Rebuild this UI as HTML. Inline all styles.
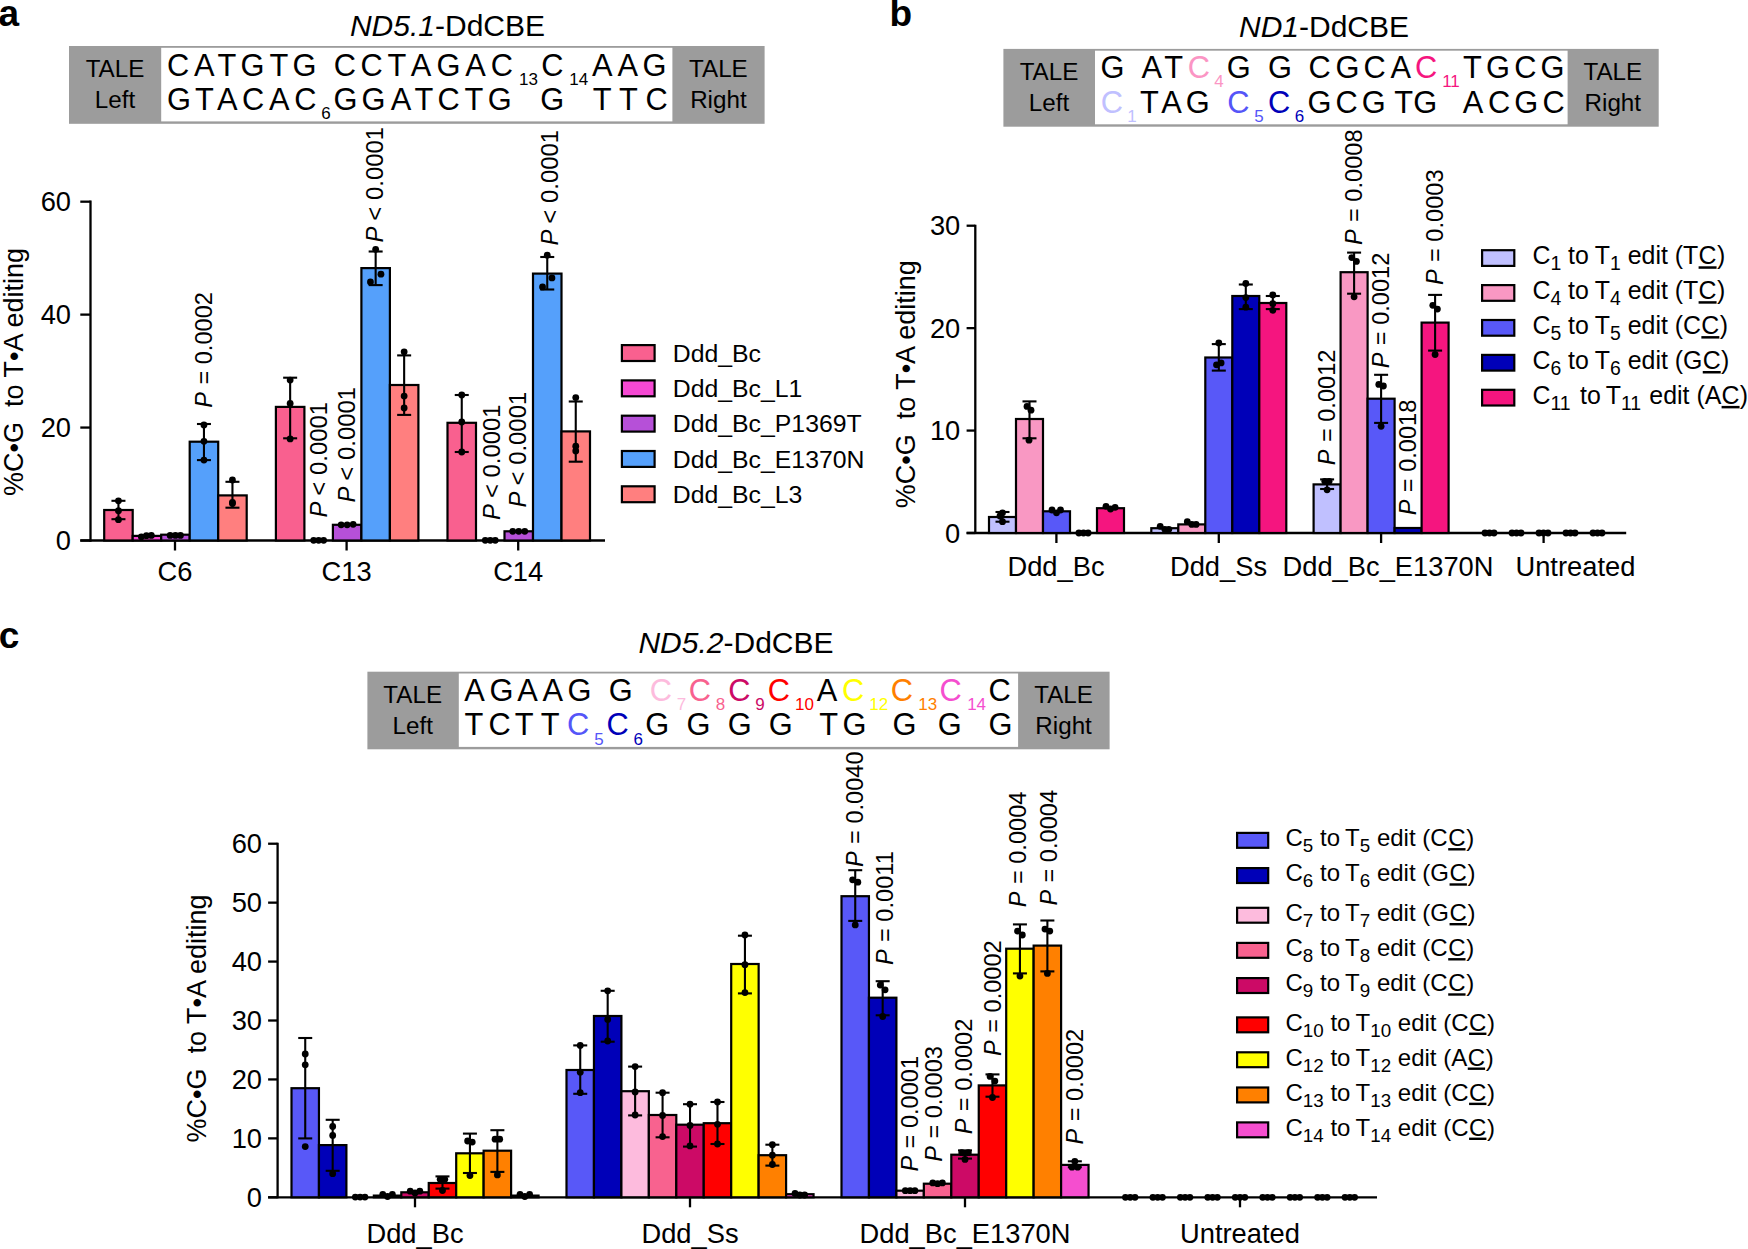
<!DOCTYPE html>
<html><head><meta charset="utf-8"><title>DdCBE editing figure</title>
<style>
html,body{margin:0;padding:0;background:#fff;}
svg{display:block;font-family:"Liberation Sans", Arial, sans-serif;fill:#000;}
.i{font-style:italic}
.u{text-decoration:underline}
</style></head><body>
<svg width="1748" height="1249" viewBox="0 0 1748 1249">
<rect width="1748" height="1249" fill="#fff"/>
<text x="-1.5" y="26.0" font-size="37" text-anchor="start" font-weight="bold">a</text>
<text x="447.5" y="36.0" font-size="30" text-anchor="middle"><tspan class="i">ND5.1</tspan>-DdCBE</text>
<rect x="69" y="46" width="695.6" height="77.8" fill="#9c9c9c"/>
<rect x="161.2" y="47.8" width="511.2" height="73.6" fill="#fff"/>
<text x="115.0" y="77.4" font-size="24.2" text-anchor="middle">TALE</text>
<text x="115.0" y="108.3" font-size="24.2" text-anchor="middle">Left</text>
<text x="718.4" y="77.4" font-size="24.2" text-anchor="middle">TALE</text>
<text x="718.4" y="108.3" font-size="24.2" text-anchor="middle">Right</text>
<text x="178.2" y="75.6" font-size="30.8" text-anchor="middle" fill="#000">C</text>
<text x="204.2" y="75.6" font-size="30.8" text-anchor="middle" fill="#000">A</text>
<text x="226.8" y="75.6" font-size="30.8" text-anchor="middle" fill="#000">T</text>
<text x="252.6" y="75.6" font-size="30.8" text-anchor="middle" fill="#000">G</text>
<text x="278.8" y="75.6" font-size="30.8" text-anchor="middle" fill="#000">T</text>
<text x="304.6" y="75.6" font-size="30.8" text-anchor="middle" fill="#000">G</text>
<text x="344.9" y="75.6" font-size="30.8" text-anchor="middle" fill="#000">C</text>
<text x="371.7" y="75.6" font-size="30.8" text-anchor="middle" fill="#000">C</text>
<text x="396.9" y="75.6" font-size="30.8" text-anchor="middle" fill="#000">T</text>
<text x="421.0" y="75.6" font-size="30.8" text-anchor="middle" fill="#000">A</text>
<text x="448.6" y="75.6" font-size="30.8" text-anchor="middle" fill="#000">G</text>
<text x="475.4" y="75.6" font-size="30.8" text-anchor="middle" fill="#000">A</text>
<text x="501.8" y="75.6" font-size="30.8" text-anchor="middle" fill="#000">C</text>
<text x="528.4" y="84.8" font-size="17" text-anchor="middle" fill="#000">13</text>
<text x="552.4" y="75.6" font-size="30.8" text-anchor="middle" fill="#000">C</text>
<text x="578.8" y="84.8" font-size="17" text-anchor="middle" fill="#000">14</text>
<text x="602.3" y="75.6" font-size="30.8" text-anchor="middle" fill="#000">A</text>
<text x="627.8" y="75.6" font-size="30.8" text-anchor="middle" fill="#000">A</text>
<text x="654.4" y="75.6" font-size="30.8" text-anchor="middle" fill="#000">G</text>
<text x="178.9" y="109.5" font-size="30.8" text-anchor="middle" fill="#000">G</text>
<text x="204.5" y="109.5" font-size="30.8" text-anchor="middle" fill="#000">T</text>
<text x="227.3" y="109.5" font-size="30.8" text-anchor="middle" fill="#000">A</text>
<text x="253.1" y="109.5" font-size="30.8" text-anchor="middle" fill="#000">C</text>
<text x="279.2" y="109.5" font-size="30.8" text-anchor="middle" fill="#000">A</text>
<text x="305.4" y="109.5" font-size="30.8" text-anchor="middle" fill="#000">C</text>
<text x="326.0" y="119.3" font-size="17" text-anchor="middle" fill="#000">6</text>
<text x="345.6" y="109.5" font-size="30.8" text-anchor="middle" fill="#000">G</text>
<text x="373.4" y="109.5" font-size="30.8" text-anchor="middle" fill="#000">G</text>
<text x="401.0" y="109.5" font-size="30.8" text-anchor="middle" fill="#000">A</text>
<text x="423.9" y="109.5" font-size="30.8" text-anchor="middle" fill="#000">T</text>
<text x="448.6" y="109.5" font-size="30.8" text-anchor="middle" fill="#000">C</text>
<text x="473.8" y="109.5" font-size="30.8" text-anchor="middle" fill="#000">T</text>
<text x="499.7" y="109.5" font-size="30.8" text-anchor="middle" fill="#000">G</text>
<text x="552.2" y="109.5" font-size="30.8" text-anchor="middle" fill="#000">G</text>
<text x="602.1" y="109.5" font-size="30.8" text-anchor="middle" fill="#000">T</text>
<text x="628.3" y="109.5" font-size="30.8" text-anchor="middle" fill="#000">T</text>
<text x="656.6" y="109.5" font-size="30.8" text-anchor="middle" fill="#000">C</text>
<line x1="90.50" y1="200.53" x2="90.50" y2="541.65" stroke="#000" stroke-width="2.3" stroke-linecap="butt"/>
<line x1="80.30" y1="540.50" x2="605.00" y2="540.50" stroke="#000" stroke-width="2.3" stroke-linecap="butt"/>
<line x1="80.30" y1="540.50" x2="90.50" y2="540.50" stroke="#000" stroke-width="2.3" stroke-linecap="butt"/>
<text x="71.0" y="550.1" font-size="27.3" text-anchor="end">0</text>
<line x1="80.30" y1="427.56" x2="90.50" y2="427.56" stroke="#000" stroke-width="2.3" stroke-linecap="butt"/>
<text x="71.0" y="437.2" font-size="27.3" text-anchor="end">20</text>
<line x1="80.30" y1="314.62" x2="90.50" y2="314.62" stroke="#000" stroke-width="2.3" stroke-linecap="butt"/>
<text x="71.0" y="324.2" font-size="27.3" text-anchor="end">40</text>
<line x1="80.30" y1="201.68" x2="90.50" y2="201.68" stroke="#000" stroke-width="2.3" stroke-linecap="butt"/>
<text x="71.0" y="211.3" font-size="27.3" text-anchor="end">60</text>
<line x1="175.00" y1="540.50" x2="175.00" y2="550.50" stroke="#000" stroke-width="2.3" stroke-linecap="butt"/>
<text x="175.0" y="581.3" font-size="27.3" text-anchor="middle">C6</text>
<line x1="346.60" y1="540.50" x2="346.60" y2="550.50" stroke="#000" stroke-width="2.3" stroke-linecap="butt"/>
<text x="346.6" y="581.3" font-size="27.3" text-anchor="middle">C13</text>
<line x1="518.20" y1="540.50" x2="518.20" y2="550.50" stroke="#000" stroke-width="2.3" stroke-linecap="butt"/>
<text x="518.2" y="581.3" font-size="27.3" text-anchor="middle">C14</text>
<text transform="translate(23.0,372.0) rotate(-90)" font-size="27.0" text-anchor="middle">%C•G&#160; to T•A editing</text>
<rect x="104.20" y="510.00" width="28.50" height="30.50" fill="#F9608F" stroke="#000" stroke-width="2.2"/>
<rect x="132.70" y="535.90" width="28.50" height="4.60" fill="#F548D3" stroke="#000" stroke-width="2.2"/>
<rect x="161.20" y="534.70" width="28.50" height="5.80" fill="#B650D8" stroke="#000" stroke-width="2.2"/>
<rect x="189.70" y="441.70" width="28.50" height="98.80" fill="#55A0FB" stroke="#000" stroke-width="2.2"/>
<rect x="218.20" y="495.40" width="28.50" height="45.10" fill="#FF7F7F" stroke="#000" stroke-width="2.2"/>
<rect x="275.90" y="406.90" width="28.50" height="133.60" fill="#F9608F" stroke="#000" stroke-width="2.2"/>
<rect x="332.90" y="524.80" width="28.50" height="15.70" fill="#B650D8" stroke="#000" stroke-width="2.2"/>
<rect x="361.40" y="268.10" width="28.50" height="272.40" fill="#55A0FB" stroke="#000" stroke-width="2.2"/>
<rect x="389.90" y="385.00" width="28.50" height="155.50" fill="#FF7F7F" stroke="#000" stroke-width="2.2"/>
<rect x="447.50" y="422.80" width="28.50" height="117.70" fill="#F9608F" stroke="#000" stroke-width="2.2"/>
<rect x="504.50" y="531.30" width="28.50" height="9.20" fill="#B650D8" stroke="#000" stroke-width="2.2"/>
<rect x="533.00" y="273.60" width="28.50" height="266.90" fill="#55A0FB" stroke="#000" stroke-width="2.2"/>
<rect x="561.50" y="431.40" width="28.50" height="109.10" fill="#FF7F7F" stroke="#000" stroke-width="2.2"/>
<line x1="118.45" y1="500.80" x2="118.45" y2="519.20" stroke="#000" stroke-width="2.1" stroke-linecap="butt"/>
<line x1="111.45" y1="500.80" x2="125.45" y2="500.80" stroke="#000" stroke-width="2.1" stroke-linecap="butt"/>
<line x1="111.45" y1="519.20" x2="125.45" y2="519.20" stroke="#000" stroke-width="2.1" stroke-linecap="butt"/>
<circle cx="118.45" cy="500.80" r="3.4" fill="#000"/>
<circle cx="118.45" cy="510.70" r="3.4" fill="#000"/>
<circle cx="118.45" cy="519.70" r="3.4" fill="#000"/>
<circle cx="141.35" cy="536.80" r="3.4" fill="#000"/>
<circle cx="146.45" cy="535.70" r="3.4" fill="#000"/>
<circle cx="151.35" cy="535.40" r="3.4" fill="#000"/>
<circle cx="170.15" cy="535.40" r="3.4" fill="#000"/>
<circle cx="175.45" cy="535.40" r="3.4" fill="#000"/>
<circle cx="180.45" cy="535.40" r="3.4" fill="#000"/>
<line x1="203.95" y1="424.00" x2="203.95" y2="460.10" stroke="#000" stroke-width="2.1" stroke-linecap="butt"/>
<line x1="196.95" y1="424.00" x2="210.95" y2="424.00" stroke="#000" stroke-width="2.1" stroke-linecap="butt"/>
<line x1="196.95" y1="460.10" x2="210.95" y2="460.10" stroke="#000" stroke-width="2.1" stroke-linecap="butt"/>
<circle cx="203.95" cy="424.90" r="3.4" fill="#000"/>
<circle cx="203.95" cy="441.30" r="3.4" fill="#000"/>
<circle cx="203.95" cy="460.10" r="3.4" fill="#000"/>
<line x1="232.45" y1="481.80" x2="232.45" y2="507.70" stroke="#000" stroke-width="2.1" stroke-linecap="butt"/>
<line x1="225.45" y1="481.80" x2="239.45" y2="481.80" stroke="#000" stroke-width="2.1" stroke-linecap="butt"/>
<line x1="225.45" y1="507.70" x2="239.45" y2="507.70" stroke="#000" stroke-width="2.1" stroke-linecap="butt"/>
<circle cx="232.45" cy="480.00" r="3.4" fill="#000"/>
<circle cx="232.45" cy="502.40" r="3.4" fill="#000"/>
<circle cx="232.45" cy="503.50" r="3.4" fill="#000"/>
<line x1="290.15" y1="377.70" x2="290.15" y2="438.30" stroke="#000" stroke-width="2.1" stroke-linecap="butt"/>
<line x1="283.15" y1="377.70" x2="297.15" y2="377.70" stroke="#000" stroke-width="2.1" stroke-linecap="butt"/>
<line x1="283.15" y1="438.30" x2="297.15" y2="438.30" stroke="#000" stroke-width="2.1" stroke-linecap="butt"/>
<circle cx="290.15" cy="380.10" r="3.4" fill="#000"/>
<circle cx="290.15" cy="403.40" r="3.4" fill="#000"/>
<circle cx="290.15" cy="438.90" r="3.4" fill="#000"/>
<circle cx="313.65" cy="540.30" r="3.4" fill="#000"/>
<circle cx="318.65" cy="540.30" r="3.4" fill="#000"/>
<circle cx="323.65" cy="540.30" r="3.4" fill="#000"/>
<circle cx="341.15" cy="524.80" r="3.4" fill="#000"/>
<circle cx="347.15" cy="524.80" r="3.4" fill="#000"/>
<circle cx="353.15" cy="524.30" r="3.4" fill="#000"/>
<line x1="375.65" y1="251.50" x2="375.65" y2="285.10" stroke="#000" stroke-width="2.1" stroke-linecap="butt"/>
<line x1="368.65" y1="251.50" x2="382.65" y2="251.50" stroke="#000" stroke-width="2.1" stroke-linecap="butt"/>
<line x1="368.65" y1="285.10" x2="382.65" y2="285.10" stroke="#000" stroke-width="2.1" stroke-linecap="butt"/>
<circle cx="375.65" cy="249.30" r="3.4" fill="#000"/>
<circle cx="380.95" cy="274.20" r="3.4" fill="#000"/>
<circle cx="370.45" cy="281.90" r="3.4" fill="#000"/>
<line x1="404.15" y1="355.40" x2="404.15" y2="414.90" stroke="#000" stroke-width="2.1" stroke-linecap="butt"/>
<line x1="397.15" y1="355.40" x2="411.15" y2="355.40" stroke="#000" stroke-width="2.1" stroke-linecap="butt"/>
<line x1="397.15" y1="414.90" x2="411.15" y2="414.90" stroke="#000" stroke-width="2.1" stroke-linecap="butt"/>
<circle cx="404.15" cy="351.80" r="3.4" fill="#000"/>
<circle cx="404.15" cy="396.10" r="3.4" fill="#000"/>
<circle cx="404.15" cy="408.00" r="3.4" fill="#000"/>
<line x1="461.75" y1="395.00" x2="461.75" y2="452.00" stroke="#000" stroke-width="2.1" stroke-linecap="butt"/>
<line x1="454.75" y1="395.00" x2="468.75" y2="395.00" stroke="#000" stroke-width="2.1" stroke-linecap="butt"/>
<line x1="454.75" y1="452.00" x2="468.75" y2="452.00" stroke="#000" stroke-width="2.1" stroke-linecap="butt"/>
<circle cx="461.75" cy="395.00" r="3.4" fill="#000"/>
<circle cx="461.75" cy="422.00" r="3.4" fill="#000"/>
<circle cx="461.75" cy="452.00" r="3.4" fill="#000"/>
<circle cx="485.25" cy="540.30" r="3.4" fill="#000"/>
<circle cx="490.25" cy="540.30" r="3.4" fill="#000"/>
<circle cx="495.25" cy="540.30" r="3.4" fill="#000"/>
<circle cx="512.75" cy="531.30" r="3.4" fill="#000"/>
<circle cx="518.75" cy="531.30" r="3.4" fill="#000"/>
<circle cx="524.75" cy="531.30" r="3.4" fill="#000"/>
<line x1="547.25" y1="257.00" x2="547.25" y2="289.50" stroke="#000" stroke-width="2.1" stroke-linecap="butt"/>
<line x1="540.25" y1="257.00" x2="554.25" y2="257.00" stroke="#000" stroke-width="2.1" stroke-linecap="butt"/>
<line x1="540.25" y1="289.50" x2="554.25" y2="289.50" stroke="#000" stroke-width="2.1" stroke-linecap="butt"/>
<circle cx="547.25" cy="255.20" r="3.4" fill="#000"/>
<circle cx="551.95" cy="277.90" r="3.4" fill="#000"/>
<circle cx="542.55" cy="286.90" r="3.4" fill="#000"/>
<line x1="575.75" y1="401.50" x2="575.75" y2="461.70" stroke="#000" stroke-width="2.1" stroke-linecap="butt"/>
<line x1="568.75" y1="401.50" x2="582.75" y2="401.50" stroke="#000" stroke-width="2.1" stroke-linecap="butt"/>
<line x1="568.75" y1="461.70" x2="582.75" y2="461.70" stroke="#000" stroke-width="2.1" stroke-linecap="butt"/>
<circle cx="575.75" cy="397.60" r="3.4" fill="#000"/>
<circle cx="575.75" cy="446.20" r="3.4" fill="#000"/>
<circle cx="575.75" cy="450.90" r="3.4" fill="#000"/>
<text transform="translate(211.5,407.7) rotate(-90)" font-size="23.6" text-anchor="start"><tspan class="i">P</tspan><tspan dx="0.8"> = 0.0002</tspan></text>
<text transform="translate(326.6,517.6) rotate(-90)" font-size="23.9" text-anchor="start"><tspan class="i">P</tspan><tspan dx="-0.6"> &lt; 0.0001</tspan></text>
<text transform="translate(355.0,502.6) rotate(-90)" font-size="23.9" text-anchor="start"><tspan class="i">P</tspan><tspan dx="-0.6"> &lt; 0.0001</tspan></text>
<text transform="translate(383.0,242.6) rotate(-90)" font-size="23.9" text-anchor="start"><tspan class="i">P</tspan><tspan dx="-0.6"> &lt; 0.0001</tspan></text>
<text transform="translate(499.6,520.0) rotate(-90)" font-size="23.9" text-anchor="start"><tspan class="i">P</tspan><tspan dx="-0.6"> &lt; 0.0001</tspan></text>
<text transform="translate(525.5,507.4) rotate(-90)" font-size="23.9" text-anchor="start"><tspan class="i">P</tspan><tspan dx="-0.6"> &lt; 0.0001</tspan></text>
<text transform="translate(557.6,245.6) rotate(-90)" font-size="23.9" text-anchor="start"><tspan class="i">P</tspan><tspan dx="-0.6"> &lt; 0.0001</tspan></text>
<rect x="621.9" y="345.1" width="32.7" height="15.9" fill="#F9608F" stroke="#000" stroke-width="2.2"/>
<text x="672.8" y="361.6" font-size="24.8" text-anchor="start">Ddd_Bc</text>
<rect x="621.9" y="380.4" width="32.7" height="15.9" fill="#F548D3" stroke="#000" stroke-width="2.2"/>
<text x="672.8" y="396.9" font-size="24.8" text-anchor="start">Ddd_Bc_L1</text>
<rect x="621.9" y="415.7" width="32.7" height="15.9" fill="#B650D8" stroke="#000" stroke-width="2.2"/>
<text x="672.8" y="432.2" font-size="24.8" text-anchor="start">Ddd_Bc_P1369T</text>
<rect x="621.9" y="451.0" width="32.7" height="15.9" fill="#55A0FB" stroke="#000" stroke-width="2.2"/>
<text x="672.8" y="467.5" font-size="24.8" text-anchor="start">Ddd_Bc_E1370N</text>
<rect x="621.9" y="486.3" width="32.7" height="15.9" fill="#FF7F7F" stroke="#000" stroke-width="2.2"/>
<text x="672.8" y="502.8" font-size="24.8" text-anchor="start">Ddd_Bc_L3</text>
<text x="889.6" y="26.2" font-size="37" text-anchor="start" font-weight="bold">b</text>
<text x="1324.0" y="36.5" font-size="30" text-anchor="middle"><tspan class="i">ND1</tspan>-DdCBE</text>
<rect x="1003.4" y="48.9" width="655.3000000000001" height="77.80000000000001" fill="#9c9c9c"/>
<rect x="1095" y="50.699999999999996" width="472.5999999999999" height="73.60000000000001" fill="#fff"/>
<text x="1049.0" y="80.3" font-size="24.2" text-anchor="middle">TALE</text>
<text x="1049.0" y="111.2" font-size="24.2" text-anchor="middle">Left</text>
<text x="1612.8" y="80.3" font-size="24.2" text-anchor="middle">TALE</text>
<text x="1612.8" y="111.2" font-size="24.2" text-anchor="middle">Right</text>
<text x="1112.4" y="78.1" font-size="30.8" text-anchor="middle" fill="#000">G</text>
<text x="1151.8" y="78.1" font-size="30.8" text-anchor="middle" fill="#000">A</text>
<text x="1173.6" y="78.1" font-size="30.8" text-anchor="middle" fill="#000">T</text>
<text x="1198.9" y="78.1" font-size="30.8" text-anchor="middle" fill="#FB95C4">C</text>
<text x="1219.1" y="87.3" font-size="17" text-anchor="middle" fill="#FB95C4">4</text>
<text x="1238.7" y="78.1" font-size="30.8" text-anchor="middle" fill="#000">G</text>
<text x="1279.9" y="78.1" font-size="30.8" text-anchor="middle" fill="#000">G</text>
<text x="1319.6" y="78.1" font-size="30.8" text-anchor="middle" fill="#000">C</text>
<text x="1347.4" y="78.1" font-size="30.8" text-anchor="middle" fill="#000">G</text>
<text x="1374.5" y="78.1" font-size="30.8" text-anchor="middle" fill="#000">C</text>
<text x="1400.7" y="78.1" font-size="30.8" text-anchor="middle" fill="#000">A</text>
<text x="1426.0" y="78.1" font-size="30.8" text-anchor="middle" fill="#F5157F">C</text>
<text x="1451.0" y="87.3" font-size="17" text-anchor="middle" fill="#F5157F">11</text>
<text x="1472.3" y="78.1" font-size="30.8" text-anchor="middle" fill="#000">T</text>
<text x="1498.1" y="78.1" font-size="30.8" text-anchor="middle" fill="#000">G</text>
<text x="1525.3" y="78.1" font-size="30.8" text-anchor="middle" fill="#000">C</text>
<text x="1552.5" y="78.1" font-size="30.8" text-anchor="middle" fill="#000">G</text>
<text x="1111.8" y="112.9" font-size="30.8" text-anchor="middle" fill="#C0C0FF">C</text>
<text x="1132.1" y="122.3" font-size="17" text-anchor="middle" fill="#C0C0FF">1</text>
<text x="1149.3" y="112.9" font-size="30.8" text-anchor="middle" fill="#000">T</text>
<text x="1171.4" y="112.9" font-size="30.8" text-anchor="middle" fill="#000">A</text>
<text x="1197.8" y="112.9" font-size="30.8" text-anchor="middle" fill="#000">G</text>
<text x="1238.3" y="112.9" font-size="30.8" text-anchor="middle" fill="#5555F8">C</text>
<text x="1258.9" y="122.3" font-size="17" text-anchor="middle" fill="#5555F8">5</text>
<text x="1279.1" y="112.9" font-size="30.8" text-anchor="middle" fill="#0000B8">C</text>
<text x="1299.6" y="122.3" font-size="17" text-anchor="middle" fill="#0000B8">6</text>
<text x="1319.4" y="112.9" font-size="30.8" text-anchor="middle" fill="#000">G</text>
<text x="1346.7" y="112.9" font-size="30.8" text-anchor="middle" fill="#000">C</text>
<text x="1373.8" y="112.9" font-size="30.8" text-anchor="middle" fill="#000">G</text>
<text x="1403.6" y="112.9" font-size="30.8" text-anchor="middle" fill="#000">T</text>
<text x="1425.3" y="112.9" font-size="30.8" text-anchor="middle" fill="#000">G</text>
<text x="1473.0" y="112.9" font-size="30.8" text-anchor="middle" fill="#000">A</text>
<text x="1499.2" y="112.9" font-size="30.8" text-anchor="middle" fill="#000">C</text>
<text x="1526.3" y="112.9" font-size="30.8" text-anchor="middle" fill="#000">G</text>
<text x="1553.5" y="112.9" font-size="30.8" text-anchor="middle" fill="#000">C</text>
<line x1="975.30" y1="224.71" x2="975.30" y2="534.00" stroke="#000" stroke-width="2.3" stroke-linecap="butt"/>
<line x1="966.60" y1="533.00" x2="1626.20" y2="533.00" stroke="#000" stroke-width="2.3" stroke-linecap="butt"/>
<line x1="966.60" y1="533.00" x2="975.30" y2="533.00" stroke="#000" stroke-width="2.3" stroke-linecap="butt"/>
<text x="960.3" y="542.6" font-size="27.3" text-anchor="end">0</text>
<line x1="966.60" y1="430.57" x2="975.30" y2="430.57" stroke="#000" stroke-width="2.3" stroke-linecap="butt"/>
<text x="960.3" y="440.2" font-size="27.3" text-anchor="end">10</text>
<line x1="966.60" y1="328.14" x2="975.30" y2="328.14" stroke="#000" stroke-width="2.3" stroke-linecap="butt"/>
<text x="960.3" y="337.7" font-size="27.3" text-anchor="end">20</text>
<line x1="966.60" y1="225.71" x2="975.30" y2="225.71" stroke="#000" stroke-width="2.3" stroke-linecap="butt"/>
<text x="960.3" y="235.3" font-size="27.3" text-anchor="end">30</text>
<line x1="1056.40" y1="533.00" x2="1056.40" y2="543.00" stroke="#000" stroke-width="2.3" stroke-linecap="butt"/>
<line x1="1218.80" y1="533.00" x2="1218.80" y2="543.00" stroke="#000" stroke-width="2.3" stroke-linecap="butt"/>
<line x1="1381.10" y1="533.00" x2="1381.10" y2="543.00" stroke="#000" stroke-width="2.3" stroke-linecap="butt"/>
<line x1="1543.60" y1="533.00" x2="1543.60" y2="543.00" stroke="#000" stroke-width="2.3" stroke-linecap="butt"/>
<text x="1056.0" y="576.0" font-size="27.3" text-anchor="middle">Ddd_Bc</text>
<text x="1218.5" y="576.0" font-size="27.3" text-anchor="middle">Ddd_Ss</text>
<text x="1388.0" y="576.0" font-size="27.3" text-anchor="middle">Ddd_Bc_E1370N</text>
<text x="1575.4" y="576.0" font-size="27.3" text-anchor="middle">Untreated</text>
<text transform="translate(915.0,384.3) rotate(-90)" font-size="27.0" text-anchor="middle">%C•G&#160; to T•A editing</text>
<rect x="989.00" y="517.00" width="27.00" height="16.00" fill="#C0C0FF" stroke="#000" stroke-width="2.2"/>
<rect x="1016.00" y="419.00" width="27.00" height="114.00" fill="#F998C3" stroke="#000" stroke-width="2.2"/>
<rect x="1043.00" y="511.30" width="27.00" height="21.70" fill="#5858F8" stroke="#000" stroke-width="2.2"/>
<rect x="1097.00" y="508.20" width="27.00" height="24.80" fill="#F5157F" stroke="#000" stroke-width="2.2"/>
<rect x="1151.30" y="528.20" width="27.00" height="4.80" fill="#C0C0FF" stroke="#000" stroke-width="2.2"/>
<rect x="1178.30" y="524.40" width="27.00" height="8.60" fill="#F998C3" stroke="#000" stroke-width="2.2"/>
<rect x="1205.30" y="357.50" width="27.00" height="175.50" fill="#5858F8" stroke="#000" stroke-width="2.2"/>
<rect x="1232.30" y="296.00" width="27.00" height="237.00" fill="#0000B8" stroke="#000" stroke-width="2.2"/>
<rect x="1259.30" y="303.00" width="27.00" height="230.00" fill="#F5157F" stroke="#000" stroke-width="2.2"/>
<rect x="1313.60" y="484.40" width="27.00" height="48.60" fill="#C0C0FF" stroke="#000" stroke-width="2.2"/>
<rect x="1340.60" y="272.20" width="27.00" height="260.80" fill="#F998C3" stroke="#000" stroke-width="2.2"/>
<rect x="1367.60" y="398.70" width="27.00" height="134.30" fill="#5858F8" stroke="#000" stroke-width="2.2"/>
<rect x="1394.60" y="528.00" width="27.00" height="5.00" fill="#0000B8" stroke="#000" stroke-width="2.2"/>
<rect x="1421.60" y="322.60" width="27.00" height="210.40" fill="#F5157F" stroke="#000" stroke-width="2.2"/>
<line x1="1002.50" y1="512.00" x2="1002.50" y2="521.70" stroke="#000" stroke-width="2.1" stroke-linecap="butt"/>
<line x1="995.50" y1="512.00" x2="1009.50" y2="512.00" stroke="#000" stroke-width="2.1" stroke-linecap="butt"/>
<line x1="995.50" y1="521.70" x2="1009.50" y2="521.70" stroke="#000" stroke-width="2.1" stroke-linecap="butt"/>
<circle cx="1002.50" cy="512.80" r="3.4" fill="#000"/>
<circle cx="1002.50" cy="521.70" r="3.4" fill="#000"/>
<circle cx="1000.00" cy="516.00" r="3.4" fill="#000"/>
<line x1="1029.50" y1="401.40" x2="1029.50" y2="438.30" stroke="#000" stroke-width="2.1" stroke-linecap="butt"/>
<line x1="1022.50" y1="401.40" x2="1036.50" y2="401.40" stroke="#000" stroke-width="2.1" stroke-linecap="butt"/>
<line x1="1022.50" y1="438.30" x2="1036.50" y2="438.30" stroke="#000" stroke-width="2.1" stroke-linecap="butt"/>
<circle cx="1027.00" cy="406.40" r="3.4" fill="#000"/>
<circle cx="1031.00" cy="410.20" r="3.4" fill="#000"/>
<circle cx="1029.00" cy="440.20" r="3.4" fill="#000"/>
<circle cx="1052.00" cy="510.00" r="3.4" fill="#000"/>
<circle cx="1056.50" cy="512.80" r="3.4" fill="#000"/>
<circle cx="1060.50" cy="510.00" r="3.4" fill="#000"/>
<circle cx="1078.90" cy="533.00" r="3.4" fill="#000"/>
<circle cx="1083.50" cy="533.00" r="3.4" fill="#000"/>
<circle cx="1088.10" cy="533.00" r="3.4" fill="#000"/>
<circle cx="1106.00" cy="506.30" r="3.4" fill="#000"/>
<circle cx="1110.50" cy="509.00" r="3.4" fill="#000"/>
<circle cx="1115.10" cy="507.40" r="3.4" fill="#000"/>
<circle cx="1160.20" cy="526.30" r="3.4" fill="#000"/>
<circle cx="1164.80" cy="529.30" r="3.4" fill="#000"/>
<circle cx="1168.80" cy="529.30" r="3.4" fill="#000"/>
<circle cx="1187.30" cy="521.70" r="3.4" fill="#000"/>
<circle cx="1191.80" cy="524.40" r="3.4" fill="#000"/>
<circle cx="1196.10" cy="524.40" r="3.4" fill="#000"/>
<line x1="1218.80" y1="344.10" x2="1218.80" y2="370.60" stroke="#000" stroke-width="2.1" stroke-linecap="butt"/>
<line x1="1211.80" y1="344.10" x2="1225.80" y2="344.10" stroke="#000" stroke-width="2.1" stroke-linecap="butt"/>
<line x1="1211.80" y1="370.60" x2="1225.80" y2="370.60" stroke="#000" stroke-width="2.1" stroke-linecap="butt"/>
<circle cx="1218.80" cy="342.90" r="3.4" fill="#000"/>
<circle cx="1216.50" cy="364.80" r="3.4" fill="#000"/>
<circle cx="1221.10" cy="362.90" r="3.4" fill="#000"/>
<line x1="1245.80" y1="284.50" x2="1245.80" y2="309.10" stroke="#000" stroke-width="2.1" stroke-linecap="butt"/>
<line x1="1238.80" y1="284.50" x2="1252.80" y2="284.50" stroke="#000" stroke-width="2.1" stroke-linecap="butt"/>
<line x1="1238.80" y1="309.10" x2="1252.80" y2="309.10" stroke="#000" stroke-width="2.1" stroke-linecap="butt"/>
<circle cx="1245.80" cy="283.40" r="3.4" fill="#000"/>
<circle cx="1245.80" cy="297.60" r="3.4" fill="#000"/>
<circle cx="1245.80" cy="307.20" r="3.4" fill="#000"/>
<line x1="1272.80" y1="296.00" x2="1272.80" y2="309.10" stroke="#000" stroke-width="2.1" stroke-linecap="butt"/>
<line x1="1265.80" y1="296.00" x2="1279.80" y2="296.00" stroke="#000" stroke-width="2.1" stroke-linecap="butt"/>
<line x1="1265.80" y1="309.10" x2="1279.80" y2="309.10" stroke="#000" stroke-width="2.1" stroke-linecap="butt"/>
<circle cx="1272.80" cy="294.90" r="3.4" fill="#000"/>
<circle cx="1272.80" cy="303.70" r="3.4" fill="#000"/>
<circle cx="1272.80" cy="310.30" r="3.4" fill="#000"/>
<line x1="1327.10" y1="479.40" x2="1327.10" y2="489.00" stroke="#000" stroke-width="2.1" stroke-linecap="butt"/>
<line x1="1320.10" y1="479.40" x2="1334.10" y2="479.40" stroke="#000" stroke-width="2.1" stroke-linecap="butt"/>
<line x1="1320.10" y1="489.00" x2="1334.10" y2="489.00" stroke="#000" stroke-width="2.1" stroke-linecap="butt"/>
<circle cx="1324.80" cy="481.30" r="3.4" fill="#000"/>
<circle cx="1329.10" cy="481.30" r="3.4" fill="#000"/>
<circle cx="1327.10" cy="489.80" r="3.4" fill="#000"/>
<line x1="1354.10" y1="252.60" x2="1354.10" y2="293.70" stroke="#000" stroke-width="2.1" stroke-linecap="butt"/>
<line x1="1347.10" y1="252.60" x2="1361.10" y2="252.60" stroke="#000" stroke-width="2.1" stroke-linecap="butt"/>
<line x1="1347.10" y1="293.70" x2="1361.10" y2="293.70" stroke="#000" stroke-width="2.1" stroke-linecap="butt"/>
<circle cx="1351.80" cy="257.60" r="3.4" fill="#000"/>
<circle cx="1356.40" cy="261.40" r="3.4" fill="#000"/>
<circle cx="1354.10" cy="296.80" r="3.4" fill="#000"/>
<line x1="1381.10" y1="374.80" x2="1381.10" y2="422.90" stroke="#000" stroke-width="2.1" stroke-linecap="butt"/>
<line x1="1374.10" y1="374.80" x2="1388.10" y2="374.80" stroke="#000" stroke-width="2.1" stroke-linecap="butt"/>
<line x1="1374.10" y1="422.90" x2="1388.10" y2="422.90" stroke="#000" stroke-width="2.1" stroke-linecap="butt"/>
<circle cx="1378.80" cy="384.40" r="3.4" fill="#000"/>
<circle cx="1383.40" cy="386.00" r="3.4" fill="#000"/>
<circle cx="1381.10" cy="426.30" r="3.4" fill="#000"/>
<line x1="1435.10" y1="294.90" x2="1435.10" y2="350.60" stroke="#000" stroke-width="2.1" stroke-linecap="butt"/>
<line x1="1428.10" y1="294.90" x2="1442.10" y2="294.90" stroke="#000" stroke-width="2.1" stroke-linecap="butt"/>
<line x1="1428.10" y1="350.60" x2="1442.10" y2="350.60" stroke="#000" stroke-width="2.1" stroke-linecap="butt"/>
<circle cx="1432.80" cy="305.30" r="3.4" fill="#000"/>
<circle cx="1437.40" cy="309.10" r="3.4" fill="#000"/>
<circle cx="1435.10" cy="354.50" r="3.4" fill="#000"/>
<circle cx="1485.00" cy="533.00" r="3.4" fill="#000"/>
<circle cx="1489.50" cy="533.00" r="3.4" fill="#000"/>
<circle cx="1494.00" cy="533.00" r="3.4" fill="#000"/>
<circle cx="1512.00" cy="533.00" r="3.4" fill="#000"/>
<circle cx="1516.50" cy="533.00" r="3.4" fill="#000"/>
<circle cx="1521.00" cy="533.00" r="3.4" fill="#000"/>
<circle cx="1539.00" cy="533.00" r="3.4" fill="#000"/>
<circle cx="1543.50" cy="533.00" r="3.4" fill="#000"/>
<circle cx="1548.00" cy="533.00" r="3.4" fill="#000"/>
<circle cx="1566.00" cy="533.00" r="3.4" fill="#000"/>
<circle cx="1570.50" cy="533.00" r="3.4" fill="#000"/>
<circle cx="1575.00" cy="533.00" r="3.4" fill="#000"/>
<circle cx="1593.00" cy="533.00" r="3.4" fill="#000"/>
<circle cx="1597.50" cy="533.00" r="3.4" fill="#000"/>
<circle cx="1602.00" cy="533.00" r="3.4" fill="#000"/>
<text transform="translate(1334.7,465.2) rotate(-90)" font-size="23.6" text-anchor="start"><tspan class="i">P</tspan><tspan dx="0.8"> = 0.0012</tspan></text>
<text transform="translate(1362.0,245.1) rotate(-90)" font-size="23.6" text-anchor="start"><tspan class="i">P</tspan><tspan dx="0.8"> = 0.0008</tspan></text>
<text transform="translate(1389.2,368.3) rotate(-90)" font-size="23.6" text-anchor="start"><tspan class="i">P</tspan><tspan dx="0.8"> = 0.0012</tspan></text>
<text transform="translate(1416.3,515.3) rotate(-90)" font-size="23.6" text-anchor="start"><tspan class="i">P</tspan><tspan dx="0.8"> = 0.0018</tspan></text>
<text transform="translate(1443.0,285.1) rotate(-90)" font-size="23.6" text-anchor="start"><tspan class="i">P</tspan><tspan dx="0.8"> = 0.0003</tspan></text>
<rect x="1482.1" y="250.2" width="32.2" height="15.7" fill="#C0C0FF" stroke="#000" stroke-width="2.2"/>
<text x="1532.4" y="264.3" font-size="24.9" text-anchor="start">C<tspan font-size="19.4" dy="6">1</tspan><tspan dy="-6" dx="0"> to </tspan><tspan dx="-0.5">T</tspan><tspan font-size="19.4" dy="6">1</tspan><tspan dy="-6" dx="0"> edit (T</tspan><tspan class="u" dx="0.3">C</tspan><tspan dx="0.3">)</tspan></text>
<rect x="1482.1" y="285.1" width="32.2" height="15.7" fill="#F998C3" stroke="#000" stroke-width="2.2"/>
<text x="1532.4" y="299.2" font-size="24.9" text-anchor="start">C<tspan font-size="19.4" dy="6">4</tspan><tspan dy="-6" dx="0"> to </tspan><tspan dx="-0.5">T</tspan><tspan font-size="19.4" dy="6">4</tspan><tspan dy="-6" dx="0"> edit (T</tspan><tspan class="u" dx="0.3">C</tspan><tspan dx="0.3">)</tspan></text>
<rect x="1482.1" y="320.0" width="32.2" height="15.7" fill="#5858F8" stroke="#000" stroke-width="2.2"/>
<text x="1532.4" y="334.1" font-size="24.9" text-anchor="start">C<tspan font-size="19.4" dy="6">5</tspan><tspan dy="-6" dx="0"> to </tspan><tspan dx="-0.5">T</tspan><tspan font-size="19.4" dy="6">5</tspan><tspan dy="-6" dx="0"> edit (C</tspan><tspan class="u" dx="0.3">C</tspan><tspan dx="0.3">)</tspan></text>
<rect x="1482.1" y="354.9" width="32.2" height="15.7" fill="#0000B8" stroke="#000" stroke-width="2.2"/>
<text x="1532.4" y="369.0" font-size="24.9" text-anchor="start">C<tspan font-size="19.4" dy="6">6</tspan><tspan dy="-6" dx="0"> to </tspan><tspan dx="-0.5">T</tspan><tspan font-size="19.4" dy="6">6</tspan><tspan dy="-6" dx="0"> edit (G</tspan><tspan class="u" dx="0.3">C</tspan><tspan dx="0.3">)</tspan></text>
<rect x="1482.1" y="389.8" width="32.2" height="15.7" fill="#F5157F" stroke="#000" stroke-width="2.2"/>
<text x="1532.4" y="403.9" font-size="24.9" text-anchor="start">C<tspan font-size="19.4" dy="6">11</tspan><tspan dy="-6" dx="2.6"> to </tspan><tspan dx="-1.5">T</tspan><tspan font-size="19.4" dy="6">11</tspan><tspan dy="-6" dx="1.3"> edit (A</tspan><tspan class="u" dx="0.3">C</tspan><tspan dx="0.3">)</tspan></text>
<text x="-1.3" y="648.0" font-size="37" text-anchor="start" font-weight="bold">c</text>
<text x="736.0" y="653.0" font-size="30" text-anchor="middle"><tspan class="i">ND5.2</tspan>-DdCBE</text>
<rect x="367.4" y="671.7" width="742.1999999999999" height="77.59999999999991" fill="#9c9c9c"/>
<rect x="458.8" y="673.5" width="559.3" height="73.3999999999999" fill="#fff"/>
<text x="412.7" y="703.1" font-size="24.2" text-anchor="middle">TALE</text>
<text x="412.7" y="734.0" font-size="24.2" text-anchor="middle">Left</text>
<text x="1063.6" y="703.1" font-size="24.2" text-anchor="middle">TALE</text>
<text x="1063.6" y="734.0" font-size="24.2" text-anchor="middle">Right</text>
<text x="474.6" y="700.6" font-size="30.8" text-anchor="middle" fill="#000">A</text>
<text x="501.4" y="700.6" font-size="30.8" text-anchor="middle" fill="#000">G</text>
<text x="527.6" y="700.6" font-size="30.8" text-anchor="middle" fill="#000">A</text>
<text x="552.7" y="700.6" font-size="30.8" text-anchor="middle" fill="#000">A</text>
<text x="579.6" y="700.6" font-size="30.8" text-anchor="middle" fill="#000">G</text>
<text x="620.8" y="700.6" font-size="30.8" text-anchor="middle" fill="#000">G</text>
<text x="660.9" y="700.6" font-size="30.8" text-anchor="middle" fill="#FDBBDD">C</text>
<text x="681.5" y="710.0" font-size="17" text-anchor="middle" fill="#FDBBDD">7</text>
<text x="699.8" y="700.6" font-size="30.8" text-anchor="middle" fill="#F8628F">C</text>
<text x="720.6" y="710.0" font-size="17" text-anchor="middle" fill="#F8628F">8</text>
<text x="739.3" y="700.6" font-size="30.8" text-anchor="middle" fill="#CC0A66">C</text>
<text x="759.9" y="710.0" font-size="17" text-anchor="middle" fill="#CC0A66">9</text>
<text x="778.8" y="700.6" font-size="30.8" text-anchor="middle" fill="#FF0000">C</text>
<text x="804.4" y="710.0" font-size="17" text-anchor="middle" fill="#FF0000">10</text>
<text x="827.0" y="700.6" font-size="30.8" text-anchor="middle" fill="#000">A</text>
<text x="853.1" y="700.6" font-size="30.8" text-anchor="middle" fill="#FFFF00">C</text>
<text x="878.8" y="710.0" font-size="17" text-anchor="middle" fill="#FFFF00">12</text>
<text x="901.9" y="700.6" font-size="30.8" text-anchor="middle" fill="#FF8000">C</text>
<text x="927.7" y="710.0" font-size="17" text-anchor="middle" fill="#FF8000">13</text>
<text x="950.7" y="700.6" font-size="30.8" text-anchor="middle" fill="#F54ECF">C</text>
<text x="976.6" y="710.0" font-size="17" text-anchor="middle" fill="#F54ECF">14</text>
<text x="999.6" y="700.6" font-size="30.8" text-anchor="middle" fill="#000">C</text>
<text x="473.8" y="734.9" font-size="30.8" text-anchor="middle" fill="#000">T</text>
<text x="499.5" y="734.9" font-size="30.8" text-anchor="middle" fill="#000">C</text>
<text x="524.2" y="734.9" font-size="30.8" text-anchor="middle" fill="#000">T</text>
<text x="550.1" y="734.9" font-size="30.8" text-anchor="middle" fill="#000">T</text>
<text x="578.1" y="734.9" font-size="30.8" text-anchor="middle" fill="#5555F8">C</text>
<text x="598.9" y="744.7" font-size="17" text-anchor="middle" fill="#5555F8">5</text>
<text x="617.6" y="734.9" font-size="30.8" text-anchor="middle" fill="#0000B8">C</text>
<text x="638.2" y="744.7" font-size="17" text-anchor="middle" fill="#0000B8">6</text>
<text x="657.3" y="734.9" font-size="30.8" text-anchor="middle" fill="#000">G</text>
<text x="698.5" y="734.9" font-size="30.8" text-anchor="middle" fill="#000">G</text>
<text x="739.7" y="734.9" font-size="30.8" text-anchor="middle" fill="#000">G</text>
<text x="780.7" y="734.9" font-size="30.8" text-anchor="middle" fill="#000">G</text>
<text x="828.7" y="734.9" font-size="30.8" text-anchor="middle" fill="#000">T</text>
<text x="854.6" y="734.9" font-size="30.8" text-anchor="middle" fill="#000">G</text>
<text x="904.6" y="734.9" font-size="30.8" text-anchor="middle" fill="#000">G</text>
<text x="949.8" y="734.9" font-size="30.8" text-anchor="middle" fill="#000">G</text>
<text x="1000.5" y="734.9" font-size="30.8" text-anchor="middle" fill="#000">G</text>
<line x1="277.60" y1="842.72" x2="277.60" y2="1198.30" stroke="#000" stroke-width="2.3" stroke-linecap="butt"/>
<line x1="268.10" y1="1197.30" x2="1377.00" y2="1197.30" stroke="#000" stroke-width="2.3" stroke-linecap="butt"/>
<line x1="268.10" y1="1197.30" x2="277.60" y2="1197.30" stroke="#000" stroke-width="2.3" stroke-linecap="butt"/>
<text x="262.0" y="1206.9" font-size="27.3" text-anchor="end">0</text>
<line x1="268.10" y1="1138.37" x2="277.60" y2="1138.37" stroke="#000" stroke-width="2.3" stroke-linecap="butt"/>
<text x="262.0" y="1148.0" font-size="27.3" text-anchor="end">10</text>
<line x1="268.10" y1="1079.44" x2="277.60" y2="1079.44" stroke="#000" stroke-width="2.3" stroke-linecap="butt"/>
<text x="262.0" y="1089.0" font-size="27.3" text-anchor="end">20</text>
<line x1="268.10" y1="1020.51" x2="277.60" y2="1020.51" stroke="#000" stroke-width="2.3" stroke-linecap="butt"/>
<text x="262.0" y="1030.1" font-size="27.3" text-anchor="end">30</text>
<line x1="268.10" y1="961.58" x2="277.60" y2="961.58" stroke="#000" stroke-width="2.3" stroke-linecap="butt"/>
<text x="262.0" y="971.2" font-size="27.3" text-anchor="end">40</text>
<line x1="268.10" y1="902.65" x2="277.60" y2="902.65" stroke="#000" stroke-width="2.3" stroke-linecap="butt"/>
<text x="262.0" y="912.2" font-size="27.3" text-anchor="end">50</text>
<line x1="268.10" y1="843.72" x2="277.60" y2="843.72" stroke="#000" stroke-width="2.3" stroke-linecap="butt"/>
<text x="262.0" y="853.3" font-size="27.3" text-anchor="end">60</text>
<line x1="415.00" y1="1197.30" x2="415.00" y2="1207.30" stroke="#000" stroke-width="2.3" stroke-linecap="butt"/>
<text x="415.0" y="1243.0" font-size="27.3" text-anchor="middle">Ddd_Bc</text>
<line x1="690.00" y1="1197.30" x2="690.00" y2="1207.30" stroke="#000" stroke-width="2.3" stroke-linecap="butt"/>
<text x="690.0" y="1243.0" font-size="27.3" text-anchor="middle">Ddd_Ss</text>
<line x1="965.00" y1="1197.30" x2="965.00" y2="1207.30" stroke="#000" stroke-width="2.3" stroke-linecap="butt"/>
<text x="965.0" y="1243.0" font-size="27.3" text-anchor="middle">Ddd_Bc_E1370N</text>
<line x1="1240.00" y1="1197.30" x2="1240.00" y2="1207.30" stroke="#000" stroke-width="2.3" stroke-linecap="butt"/>
<text x="1240.0" y="1243.0" font-size="27.3" text-anchor="middle">Untreated</text>
<text transform="translate(205.5,1018.5) rotate(-90)" font-size="27.0" text-anchor="middle">%C•G&#160; to T•A editing</text>
<rect x="291.50" y="1088.20" width="27.45" height="109.10" fill="#5858F8" stroke="#000" stroke-width="2.2"/>
<rect x="318.95" y="1145.10" width="27.45" height="52.20" fill="#0000B8" stroke="#000" stroke-width="2.2"/>
<rect x="373.85" y="1195.60" width="27.45" height="1.70" fill="#F8628F" stroke="#000" stroke-width="2.2"/>
<rect x="401.30" y="1192.30" width="27.45" height="5.00" fill="#CC0A66" stroke="#000" stroke-width="2.2"/>
<rect x="428.75" y="1183.00" width="27.45" height="14.30" fill="#FF0000" stroke="#000" stroke-width="2.2"/>
<rect x="456.20" y="1153.30" width="27.45" height="44.00" fill="#FFFF00" stroke="#000" stroke-width="2.2"/>
<rect x="483.65" y="1150.70" width="27.45" height="46.60" fill="#FF8000" stroke="#000" stroke-width="2.2"/>
<rect x="511.10" y="1195.60" width="27.45" height="1.70" fill="#F54ECF" stroke="#000" stroke-width="2.2"/>
<rect x="566.50" y="1070.00" width="27.45" height="127.30" fill="#5858F8" stroke="#000" stroke-width="2.2"/>
<rect x="593.95" y="1016.00" width="27.45" height="181.30" fill="#0000B8" stroke="#000" stroke-width="2.2"/>
<rect x="621.40" y="1091.20" width="27.45" height="106.10" fill="#FDBBDD" stroke="#000" stroke-width="2.2"/>
<rect x="648.85" y="1115.00" width="27.45" height="82.30" fill="#F8628F" stroke="#000" stroke-width="2.2"/>
<rect x="676.30" y="1124.70" width="27.45" height="72.60" fill="#CC0A66" stroke="#000" stroke-width="2.2"/>
<rect x="703.75" y="1123.20" width="27.45" height="74.10" fill="#FF0000" stroke="#000" stroke-width="2.2"/>
<rect x="731.20" y="964.00" width="27.45" height="233.30" fill="#FFFF00" stroke="#000" stroke-width="2.2"/>
<rect x="758.65" y="1155.20" width="27.45" height="42.10" fill="#FF8000" stroke="#000" stroke-width="2.2"/>
<rect x="786.10" y="1194.20" width="27.45" height="3.10" fill="#F54ECF" stroke="#000" stroke-width="2.2"/>
<rect x="841.50" y="896.20" width="27.45" height="301.10" fill="#5858F8" stroke="#000" stroke-width="2.2"/>
<rect x="868.95" y="997.70" width="27.45" height="199.60" fill="#0000B8" stroke="#000" stroke-width="2.2"/>
<rect x="896.40" y="1190.70" width="27.45" height="6.60" fill="#FDBBDD" stroke="#000" stroke-width="2.2"/>
<rect x="923.85" y="1183.70" width="27.45" height="13.60" fill="#F8628F" stroke="#000" stroke-width="2.2"/>
<rect x="951.30" y="1154.70" width="27.45" height="42.60" fill="#CC0A66" stroke="#000" stroke-width="2.2"/>
<rect x="978.75" y="1085.40" width="27.45" height="111.90" fill="#FF0000" stroke="#000" stroke-width="2.2"/>
<rect x="1006.20" y="948.70" width="27.45" height="248.60" fill="#FFFF00" stroke="#000" stroke-width="2.2"/>
<rect x="1033.65" y="945.60" width="27.45" height="251.70" fill="#FF8000" stroke="#000" stroke-width="2.2"/>
<rect x="1061.10" y="1164.90" width="27.45" height="32.40" fill="#F54ECF" stroke="#000" stroke-width="2.2"/>
<line x1="305.23" y1="1038.00" x2="305.23" y2="1138.40" stroke="#000" stroke-width="2.1" stroke-linecap="butt"/>
<line x1="298.23" y1="1038.00" x2="312.23" y2="1038.00" stroke="#000" stroke-width="2.1" stroke-linecap="butt"/>
<line x1="298.23" y1="1138.40" x2="312.23" y2="1138.40" stroke="#000" stroke-width="2.1" stroke-linecap="butt"/>
<circle cx="305.23" cy="1054.00" r="3.4" fill="#000"/>
<circle cx="305.23" cy="1064.80" r="3.4" fill="#000"/>
<circle cx="305.23" cy="1146.60" r="3.4" fill="#000"/>
<line x1="332.68" y1="1119.80" x2="332.68" y2="1170.80" stroke="#000" stroke-width="2.1" stroke-linecap="butt"/>
<line x1="325.68" y1="1119.80" x2="339.68" y2="1119.80" stroke="#000" stroke-width="2.1" stroke-linecap="butt"/>
<line x1="325.68" y1="1170.80" x2="339.68" y2="1170.80" stroke="#000" stroke-width="2.1" stroke-linecap="butt"/>
<circle cx="332.68" cy="1126.50" r="3.4" fill="#000"/>
<circle cx="332.68" cy="1135.40" r="3.4" fill="#000"/>
<circle cx="332.68" cy="1173.70" r="3.4" fill="#000"/>
<circle cx="355.32" cy="1197.10" r="3.4" fill="#000"/>
<circle cx="360.12" cy="1197.10" r="3.4" fill="#000"/>
<circle cx="364.93" cy="1197.10" r="3.4" fill="#000"/>
<circle cx="382.78" cy="1194.50" r="3.4" fill="#000"/>
<circle cx="387.58" cy="1196.50" r="3.4" fill="#000"/>
<circle cx="392.38" cy="1194.50" r="3.4" fill="#000"/>
<circle cx="410.23" cy="1191.20" r="3.4" fill="#000"/>
<circle cx="415.03" cy="1193.00" r="3.4" fill="#000"/>
<circle cx="419.83" cy="1191.20" r="3.4" fill="#000"/>
<line x1="442.48" y1="1176.40" x2="442.48" y2="1188.60" stroke="#000" stroke-width="2.1" stroke-linecap="butt"/>
<line x1="435.48" y1="1176.40" x2="449.48" y2="1176.40" stroke="#000" stroke-width="2.1" stroke-linecap="butt"/>
<line x1="435.48" y1="1188.60" x2="449.48" y2="1188.60" stroke="#000" stroke-width="2.1" stroke-linecap="butt"/>
<circle cx="440.18" cy="1179.30" r="3.4" fill="#000"/>
<circle cx="444.78" cy="1179.30" r="3.4" fill="#000"/>
<circle cx="442.48" cy="1190.50" r="3.4" fill="#000"/>
<line x1="469.93" y1="1133.60" x2="469.93" y2="1173.00" stroke="#000" stroke-width="2.1" stroke-linecap="butt"/>
<line x1="462.93" y1="1133.60" x2="476.93" y2="1133.60" stroke="#000" stroke-width="2.1" stroke-linecap="butt"/>
<line x1="462.93" y1="1173.00" x2="476.93" y2="1173.00" stroke="#000" stroke-width="2.1" stroke-linecap="butt"/>
<circle cx="467.62" cy="1141.00" r="3.4" fill="#000"/>
<circle cx="472.23" cy="1142.10" r="3.4" fill="#000"/>
<circle cx="469.93" cy="1175.60" r="3.4" fill="#000"/>
<line x1="497.38" y1="1130.20" x2="497.38" y2="1171.90" stroke="#000" stroke-width="2.1" stroke-linecap="butt"/>
<line x1="490.38" y1="1130.20" x2="504.38" y2="1130.20" stroke="#000" stroke-width="2.1" stroke-linecap="butt"/>
<line x1="490.38" y1="1171.90" x2="504.38" y2="1171.90" stroke="#000" stroke-width="2.1" stroke-linecap="butt"/>
<circle cx="495.07" cy="1139.20" r="3.4" fill="#000"/>
<circle cx="499.68" cy="1139.20" r="3.4" fill="#000"/>
<circle cx="497.38" cy="1174.90" r="3.4" fill="#000"/>
<circle cx="520.03" cy="1194.50" r="3.4" fill="#000"/>
<circle cx="524.83" cy="1196.50" r="3.4" fill="#000"/>
<circle cx="529.62" cy="1194.50" r="3.4" fill="#000"/>
<line x1="580.23" y1="1045.40" x2="580.23" y2="1093.80" stroke="#000" stroke-width="2.1" stroke-linecap="butt"/>
<line x1="573.23" y1="1045.40" x2="587.23" y2="1045.40" stroke="#000" stroke-width="2.1" stroke-linecap="butt"/>
<line x1="573.23" y1="1093.80" x2="587.23" y2="1093.80" stroke="#000" stroke-width="2.1" stroke-linecap="butt"/>
<circle cx="580.23" cy="1045.40" r="3.4" fill="#000"/>
<circle cx="580.23" cy="1072.20" r="3.4" fill="#000"/>
<circle cx="580.23" cy="1092.70" r="3.4" fill="#000"/>
<line x1="607.68" y1="990.80" x2="607.68" y2="1041.70" stroke="#000" stroke-width="2.1" stroke-linecap="butt"/>
<line x1="600.68" y1="990.80" x2="614.68" y2="990.80" stroke="#000" stroke-width="2.1" stroke-linecap="butt"/>
<line x1="600.68" y1="1041.70" x2="614.68" y2="1041.70" stroke="#000" stroke-width="2.1" stroke-linecap="butt"/>
<circle cx="607.68" cy="990.80" r="3.4" fill="#000"/>
<circle cx="607.68" cy="1019.40" r="3.4" fill="#000"/>
<circle cx="607.68" cy="1041.00" r="3.4" fill="#000"/>
<line x1="635.12" y1="1066.60" x2="635.12" y2="1115.40" stroke="#000" stroke-width="2.1" stroke-linecap="butt"/>
<line x1="628.12" y1="1066.60" x2="642.12" y2="1066.60" stroke="#000" stroke-width="2.1" stroke-linecap="butt"/>
<line x1="628.12" y1="1115.40" x2="642.12" y2="1115.40" stroke="#000" stroke-width="2.1" stroke-linecap="butt"/>
<circle cx="635.12" cy="1066.60" r="3.4" fill="#000"/>
<circle cx="635.12" cy="1091.90" r="3.4" fill="#000"/>
<circle cx="635.12" cy="1115.00" r="3.4" fill="#000"/>
<line x1="662.58" y1="1092.70" x2="662.58" y2="1137.30" stroke="#000" stroke-width="2.1" stroke-linecap="butt"/>
<line x1="655.58" y1="1092.70" x2="669.58" y2="1092.70" stroke="#000" stroke-width="2.1" stroke-linecap="butt"/>
<line x1="655.58" y1="1137.30" x2="669.58" y2="1137.30" stroke="#000" stroke-width="2.1" stroke-linecap="butt"/>
<circle cx="662.58" cy="1092.70" r="3.4" fill="#000"/>
<circle cx="662.58" cy="1115.40" r="3.4" fill="#000"/>
<circle cx="662.58" cy="1136.60" r="3.4" fill="#000"/>
<line x1="690.02" y1="1104.20" x2="690.02" y2="1146.60" stroke="#000" stroke-width="2.1" stroke-linecap="butt"/>
<line x1="683.02" y1="1104.20" x2="697.02" y2="1104.20" stroke="#000" stroke-width="2.1" stroke-linecap="butt"/>
<line x1="683.02" y1="1146.60" x2="697.02" y2="1146.60" stroke="#000" stroke-width="2.1" stroke-linecap="butt"/>
<circle cx="690.02" cy="1104.20" r="3.4" fill="#000"/>
<circle cx="690.02" cy="1125.40" r="3.4" fill="#000"/>
<circle cx="690.02" cy="1145.90" r="3.4" fill="#000"/>
<line x1="717.48" y1="1102.00" x2="717.48" y2="1144.00" stroke="#000" stroke-width="2.1" stroke-linecap="butt"/>
<line x1="710.48" y1="1102.00" x2="724.48" y2="1102.00" stroke="#000" stroke-width="2.1" stroke-linecap="butt"/>
<line x1="710.48" y1="1144.00" x2="724.48" y2="1144.00" stroke="#000" stroke-width="2.1" stroke-linecap="butt"/>
<circle cx="717.48" cy="1102.00" r="3.4" fill="#000"/>
<circle cx="717.48" cy="1124.30" r="3.4" fill="#000"/>
<circle cx="717.48" cy="1144.00" r="3.4" fill="#000"/>
<line x1="744.93" y1="935.70" x2="744.93" y2="993.40" stroke="#000" stroke-width="2.1" stroke-linecap="butt"/>
<line x1="737.93" y1="935.70" x2="751.93" y2="935.70" stroke="#000" stroke-width="2.1" stroke-linecap="butt"/>
<line x1="737.93" y1="993.40" x2="751.93" y2="993.40" stroke="#000" stroke-width="2.1" stroke-linecap="butt"/>
<circle cx="744.93" cy="935.00" r="3.4" fill="#000"/>
<circle cx="744.93" cy="964.70" r="3.4" fill="#000"/>
<circle cx="744.93" cy="992.60" r="3.4" fill="#000"/>
<line x1="772.38" y1="1144.70" x2="772.38" y2="1165.60" stroke="#000" stroke-width="2.1" stroke-linecap="butt"/>
<line x1="765.38" y1="1144.70" x2="779.38" y2="1144.70" stroke="#000" stroke-width="2.1" stroke-linecap="butt"/>
<line x1="765.38" y1="1165.60" x2="779.38" y2="1165.60" stroke="#000" stroke-width="2.1" stroke-linecap="butt"/>
<circle cx="772.38" cy="1144.70" r="3.4" fill="#000"/>
<circle cx="772.38" cy="1155.20" r="3.4" fill="#000"/>
<circle cx="772.38" cy="1164.50" r="3.4" fill="#000"/>
<circle cx="795.03" cy="1193.50" r="3.4" fill="#000"/>
<circle cx="799.83" cy="1195.00" r="3.4" fill="#000"/>
<circle cx="804.62" cy="1195.00" r="3.4" fill="#000"/>
<line x1="855.23" y1="870.20" x2="855.23" y2="920.90" stroke="#000" stroke-width="2.1" stroke-linecap="butt"/>
<line x1="848.23" y1="870.20" x2="862.23" y2="870.20" stroke="#000" stroke-width="2.1" stroke-linecap="butt"/>
<line x1="848.23" y1="920.90" x2="862.23" y2="920.90" stroke="#000" stroke-width="2.1" stroke-linecap="butt"/>
<circle cx="852.62" cy="879.80" r="3.4" fill="#000"/>
<circle cx="857.83" cy="882.20" r="3.4" fill="#000"/>
<circle cx="855.23" cy="924.90" r="3.4" fill="#000"/>
<line x1="882.68" y1="981.20" x2="882.68" y2="1015.30" stroke="#000" stroke-width="2.1" stroke-linecap="butt"/>
<line x1="875.68" y1="981.20" x2="889.68" y2="981.20" stroke="#000" stroke-width="2.1" stroke-linecap="butt"/>
<line x1="875.68" y1="1015.30" x2="889.68" y2="1015.30" stroke="#000" stroke-width="2.1" stroke-linecap="butt"/>
<circle cx="880.28" cy="985.10" r="3.4" fill="#000"/>
<circle cx="885.08" cy="989.80" r="3.4" fill="#000"/>
<circle cx="882.68" cy="1016.50" r="3.4" fill="#000"/>
<circle cx="905.33" cy="1190.70" r="3.4" fill="#000"/>
<circle cx="910.12" cy="1190.70" r="3.4" fill="#000"/>
<circle cx="914.92" cy="1190.70" r="3.4" fill="#000"/>
<circle cx="932.78" cy="1182.90" r="3.4" fill="#000"/>
<circle cx="937.58" cy="1183.70" r="3.4" fill="#000"/>
<circle cx="942.38" cy="1182.90" r="3.4" fill="#000"/>
<line x1="965.02" y1="1150.40" x2="965.02" y2="1158.60" stroke="#000" stroke-width="2.1" stroke-linecap="butt"/>
<line x1="958.02" y1="1150.40" x2="972.02" y2="1150.40" stroke="#000" stroke-width="2.1" stroke-linecap="butt"/>
<line x1="958.02" y1="1158.60" x2="972.02" y2="1158.60" stroke="#000" stroke-width="2.1" stroke-linecap="butt"/>
<circle cx="961.73" cy="1152.70" r="3.4" fill="#000"/>
<circle cx="968.32" cy="1152.70" r="3.4" fill="#000"/>
<circle cx="965.02" cy="1159.40" r="3.4" fill="#000"/>
<line x1="992.48" y1="1074.40" x2="992.48" y2="1096.70" stroke="#000" stroke-width="2.1" stroke-linecap="butt"/>
<line x1="985.48" y1="1074.40" x2="999.48" y2="1074.40" stroke="#000" stroke-width="2.1" stroke-linecap="butt"/>
<line x1="985.48" y1="1096.70" x2="999.48" y2="1096.70" stroke="#000" stroke-width="2.1" stroke-linecap="butt"/>
<circle cx="990.08" cy="1076.40" r="3.4" fill="#000"/>
<circle cx="994.88" cy="1081.10" r="3.4" fill="#000"/>
<circle cx="992.48" cy="1097.50" r="3.4" fill="#000"/>
<line x1="1019.93" y1="924.40" x2="1019.93" y2="973.40" stroke="#000" stroke-width="2.1" stroke-linecap="butt"/>
<line x1="1012.93" y1="924.40" x2="1026.93" y2="924.40" stroke="#000" stroke-width="2.1" stroke-linecap="butt"/>
<line x1="1012.93" y1="973.40" x2="1026.93" y2="973.40" stroke="#000" stroke-width="2.1" stroke-linecap="butt"/>
<circle cx="1017.53" cy="931.10" r="3.4" fill="#000"/>
<circle cx="1022.33" cy="935.00" r="3.4" fill="#000"/>
<circle cx="1019.93" cy="976.10" r="3.4" fill="#000"/>
<line x1="1047.38" y1="920.50" x2="1047.38" y2="971.40" stroke="#000" stroke-width="2.1" stroke-linecap="butt"/>
<line x1="1040.38" y1="920.50" x2="1054.38" y2="920.50" stroke="#000" stroke-width="2.1" stroke-linecap="butt"/>
<line x1="1040.38" y1="971.40" x2="1054.38" y2="971.40" stroke="#000" stroke-width="2.1" stroke-linecap="butt"/>
<circle cx="1044.97" cy="929.10" r="3.4" fill="#000"/>
<circle cx="1049.78" cy="931.10" r="3.4" fill="#000"/>
<circle cx="1047.38" cy="973.40" r="3.4" fill="#000"/>
<line x1="1074.82" y1="1161.30" x2="1074.82" y2="1167.20" stroke="#000" stroke-width="2.1" stroke-linecap="butt"/>
<line x1="1067.82" y1="1161.30" x2="1081.82" y2="1161.30" stroke="#000" stroke-width="2.1" stroke-linecap="butt"/>
<line x1="1067.82" y1="1167.20" x2="1081.82" y2="1167.20" stroke="#000" stroke-width="2.1" stroke-linecap="butt"/>
<circle cx="1072.02" cy="1167.20" r="3.4" fill="#000"/>
<circle cx="1074.82" cy="1161.30" r="3.4" fill="#000"/>
<circle cx="1077.62" cy="1167.20" r="3.4" fill="#000"/>
<circle cx="1125.42" cy="1197.30" r="3.4" fill="#000"/>
<circle cx="1130.22" cy="1197.30" r="3.4" fill="#000"/>
<circle cx="1135.02" cy="1197.30" r="3.4" fill="#000"/>
<circle cx="1152.88" cy="1197.30" r="3.4" fill="#000"/>
<circle cx="1157.67" cy="1197.30" r="3.4" fill="#000"/>
<circle cx="1162.47" cy="1197.30" r="3.4" fill="#000"/>
<circle cx="1180.33" cy="1197.30" r="3.4" fill="#000"/>
<circle cx="1185.12" cy="1197.30" r="3.4" fill="#000"/>
<circle cx="1189.92" cy="1197.30" r="3.4" fill="#000"/>
<circle cx="1207.77" cy="1197.30" r="3.4" fill="#000"/>
<circle cx="1212.57" cy="1197.30" r="3.4" fill="#000"/>
<circle cx="1217.37" cy="1197.30" r="3.4" fill="#000"/>
<circle cx="1235.22" cy="1197.30" r="3.4" fill="#000"/>
<circle cx="1240.02" cy="1197.30" r="3.4" fill="#000"/>
<circle cx="1244.82" cy="1197.30" r="3.4" fill="#000"/>
<circle cx="1262.67" cy="1197.30" r="3.4" fill="#000"/>
<circle cx="1267.47" cy="1197.30" r="3.4" fill="#000"/>
<circle cx="1272.27" cy="1197.30" r="3.4" fill="#000"/>
<circle cx="1290.12" cy="1197.30" r="3.4" fill="#000"/>
<circle cx="1294.92" cy="1197.30" r="3.4" fill="#000"/>
<circle cx="1299.72" cy="1197.30" r="3.4" fill="#000"/>
<circle cx="1317.58" cy="1197.30" r="3.4" fill="#000"/>
<circle cx="1322.38" cy="1197.30" r="3.4" fill="#000"/>
<circle cx="1327.17" cy="1197.30" r="3.4" fill="#000"/>
<circle cx="1345.02" cy="1197.30" r="3.4" fill="#000"/>
<circle cx="1349.82" cy="1197.30" r="3.4" fill="#000"/>
<circle cx="1354.62" cy="1197.30" r="3.4" fill="#000"/>
<text transform="translate(863.0,867.0) rotate(-90)" font-size="23.6" text-anchor="start"><tspan class="i">P</tspan><tspan dx="0.8"> = 0.0040</tspan></text>
<text transform="translate(892.8,965.1) rotate(-90)" font-size="23.6" text-anchor="start"><tspan class="i">P</tspan><tspan dx="0.8"> = 0.0011</tspan></text>
<text transform="translate(918.0,1171.5) rotate(-90)" font-size="23.6" text-anchor="start"><tspan class="i">P</tspan><tspan dx="0.8"> = 0.0001</tspan></text>
<text transform="translate(942.2,1161.7) rotate(-90)" font-size="23.6" text-anchor="start"><tspan class="i">P</tspan><tspan dx="0.8"> = 0.0003</tspan></text>
<text transform="translate(971.7,1134.3) rotate(-90)" font-size="23.6" text-anchor="start"><tspan class="i">P</tspan><tspan dx="0.8"> = 0.0002</tspan></text>
<text transform="translate(1000.5,1055.9) rotate(-90)" font-size="23.6" text-anchor="start"><tspan class="i">P</tspan><tspan dx="0.8"> = 0.0002</tspan></text>
<text transform="translate(1025.9,907.2) rotate(-90)" font-size="23.6" text-anchor="start"><tspan class="i">P</tspan><tspan dx="0.8"> = 0.0004</tspan></text>
<text transform="translate(1057.2,905.6) rotate(-90)" font-size="23.6" text-anchor="start"><tspan class="i">P</tspan><tspan dx="0.8"> = 0.0004</tspan></text>
<text transform="translate(1082.9,1144.4) rotate(-90)" font-size="23.6" text-anchor="start"><tspan class="i">P</tspan><tspan dx="0.8"> = 0.0002</tspan></text>
<rect x="1237.1" y="832.9" width="31.1" height="14.9" fill="#5858F8" stroke="#000" stroke-width="2.2"/>
<text x="1285.5" y="846.1" font-size="24.0" text-anchor="start">C<tspan font-size="18.8" dy="6">5</tspan><tspan dy="-6" dx="0"> to </tspan><tspan dx="-1.1">T</tspan><tspan font-size="18.8" dy="6">5</tspan><tspan dy="-6" dx="0"> edit (C</tspan><tspan class="u" dx="0.6">C</tspan><tspan dx="0.6">)</tspan></text>
<rect x="1237.1" y="868.1" width="31.1" height="14.9" fill="#0000B8" stroke="#000" stroke-width="2.2"/>
<text x="1285.5" y="881.3" font-size="24.0" text-anchor="start">C<tspan font-size="18.8" dy="6">6</tspan><tspan dy="-6" dx="0"> to </tspan><tspan dx="-1.1">T</tspan><tspan font-size="18.8" dy="6">6</tspan><tspan dy="-6" dx="0"> edit (G</tspan><tspan class="u" dx="0.6">C</tspan><tspan dx="0.6">)</tspan></text>
<rect x="1237.1" y="907.8" width="31.1" height="14.9" fill="#FDBBDD" stroke="#000" stroke-width="2.2"/>
<text x="1285.5" y="921.0" font-size="24.0" text-anchor="start">C<tspan font-size="18.8" dy="6">7</tspan><tspan dy="-6" dx="0"> to </tspan><tspan dx="-1.1">T</tspan><tspan font-size="18.8" dy="6">7</tspan><tspan dy="-6" dx="0"> edit (G</tspan><tspan class="u" dx="0.6">C</tspan><tspan dx="0.6">)</tspan></text>
<rect x="1237.1" y="942.9" width="31.1" height="14.9" fill="#F8628F" stroke="#000" stroke-width="2.2"/>
<text x="1285.5" y="956.1" font-size="24.0" text-anchor="start">C<tspan font-size="18.8" dy="6">8</tspan><tspan dy="-6" dx="0"> to </tspan><tspan dx="-1.1">T</tspan><tspan font-size="18.8" dy="6">8</tspan><tspan dy="-6" dx="0"> edit (C</tspan><tspan class="u" dx="0.6">C</tspan><tspan dx="0.6">)</tspan></text>
<rect x="1237.1" y="978.1" width="31.1" height="14.9" fill="#CC0A66" stroke="#000" stroke-width="2.2"/>
<text x="1285.5" y="991.3" font-size="24.0" text-anchor="start">C<tspan font-size="18.8" dy="6">9</tspan><tspan dy="-6" dx="0"> to </tspan><tspan dx="-1.1">T</tspan><tspan font-size="18.8" dy="6">9</tspan><tspan dy="-6" dx="0"> edit (C</tspan><tspan class="u" dx="0.6">C</tspan><tspan dx="0.6">)</tspan></text>
<rect x="1237.1" y="1017.4" width="31.1" height="14.9" fill="#FF0000" stroke="#000" stroke-width="2.2"/>
<text x="1285.5" y="1030.6" font-size="24.0" text-anchor="start">C<tspan font-size="18.8" dy="6">10</tspan><tspan dy="-6" dx="0"> to </tspan><tspan dx="-1.1">T</tspan><tspan font-size="18.8" dy="6">10</tspan><tspan dy="-6" dx="0"> edit (C</tspan><tspan class="u" dx="0.6">C</tspan><tspan dx="0.6">)</tspan></text>
<rect x="1237.1" y="1052.3" width="31.1" height="14.9" fill="#FFFF00" stroke="#000" stroke-width="2.2"/>
<text x="1285.5" y="1065.5" font-size="24.0" text-anchor="start">C<tspan font-size="18.8" dy="6">12</tspan><tspan dy="-6" dx="0"> to </tspan><tspan dx="-1.1">T</tspan><tspan font-size="18.8" dy="6">12</tspan><tspan dy="-6" dx="0"> edit (A</tspan><tspan class="u" dx="0.6">C</tspan><tspan dx="0.6">)</tspan></text>
<rect x="1237.1" y="1087.5" width="31.1" height="14.9" fill="#FF8000" stroke="#000" stroke-width="2.2"/>
<text x="1285.5" y="1100.7" font-size="24.0" text-anchor="start">C<tspan font-size="18.8" dy="6">13</tspan><tspan dy="-6" dx="0"> to </tspan><tspan dx="-1.1">T</tspan><tspan font-size="18.8" dy="6">13</tspan><tspan dy="-6" dx="0"> edit (C</tspan><tspan class="u" dx="0.6">C</tspan><tspan dx="0.6">)</tspan></text>
<rect x="1237.1" y="1122.4" width="31.1" height="14.9" fill="#F54ECF" stroke="#000" stroke-width="2.2"/>
<text x="1285.5" y="1135.6" font-size="24.0" text-anchor="start">C<tspan font-size="18.8" dy="6">14</tspan><tspan dy="-6" dx="0"> to </tspan><tspan dx="-1.1">T</tspan><tspan font-size="18.8" dy="6">14</tspan><tspan dy="-6" dx="0"> edit (C</tspan><tspan class="u" dx="0.6">C</tspan><tspan dx="0.6">)</tspan></text>
</svg>
</body></html>
